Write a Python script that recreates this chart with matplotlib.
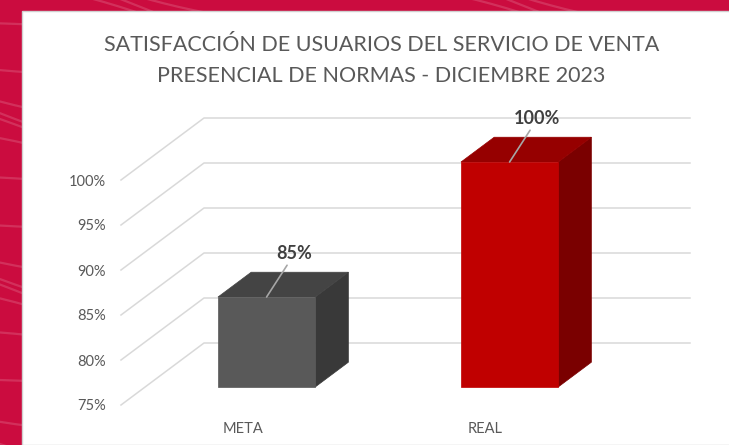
import numpy as np
import matplotlib.pyplot as plt
from matplotlib.patches import Polygon, Rectangle
from matplotlib.lines import Line2D

categories = ["META", "REAL"]
values = [85, 100]
value_labels = ["85%", "100%"]
ticks = [75, 80, 85, 90, 95, 100]
tick_labels = ["75%", "80%", "85%", "90%", "95%", "100%"]
title_lines = ["SATISFACCIÓN DE USUARIOS DEL SERVICIO DE VENTA",
               "PRESENCIAL DE NORMAS - DICIEMBRE 2023"]

front_cols = ["#595959", "#C00000"]
top_cols = ["#444444", "#960000"]
side_cols = ["#393939", "#7A0000"]

plt.rcParams['font.family'] = ['Lato', 'DejaVu Sans']

W, H = 729, 445
fig = plt.figure(figsize=(W / 100, H / 100), dpi=100)
fig.patch.set_facecolor("#CB0C3F")

# decorative stripes on the red border
bg = fig.add_axes([0, 0, 1, 1])
bg.set_xlim(0, 1)
bg.set_ylim(0, 1)
bg.axis("off")
for k, y0 in enumerate(np.linspace(-0.2, 1.3, 26)):
    xs = np.linspace(0, 1, 50)
    bg.plot(xs, y0 - 0.35 * xs + 0.05 * np.sin(xs * 6 + k), color="white",
            alpha=0.15, lw=1.6)
bg.add_patch(Rectangle((22 / W, 0), 1, (H - 11) / H, facecolor="white",
                       edgecolor="#D0D0D0", lw=1, zorder=5))

# main axes: front plane of the 3D chart
left, right = 121, 607
y75, y100 = 405, 180
ax = fig.add_axes([left / W, (H - y75) / H, (right - left) / W, (y75 - y100) / H])
ax.set_xlim(-0.5, 1.5)
ax.set_ylim(75, 100)
ax.patch.set_alpha(0)
ax.set_zorder(6)
for s in ax.spines.values():
    s.set_visible(False)

px_x = 2.0 / (right - left)          # data units per pixel, x
px_y = 25.0 / (y75 - y100)           # data units per pixel, y
DX, DY = 83 * px_x, 62 * px_y        # full depth offset
d0, d1 = 0.29, 0.69                  # bar depth span
hw = 0.2                             # half bar width


def proj(x, v, d):
    return (x + d * DX, v + d * DY)


grid_c = "#D9D9D9"
for t in ticks:
    pts = [proj(-0.5, t, 0), proj(-0.5, t, 1), proj(1.5, t, 1)]
    ax.add_line(Line2D([p[0] for p in pts], [p[1] for p in pts], color=grid_c,
                       lw=1.1, clip_on=False, zorder=1))

base = ticks[0]
for i, v in enumerate(values):
    front = [proj(i - hw, base, d0), proj(i + hw, base, d0),
             proj(i + hw, v, d0), proj(i - hw, v, d0)]
    top = [proj(i - hw, v, d0), proj(i + hw, v, d0),
           proj(i + hw, v, d1), proj(i - hw, v, d1)]
    side = [proj(i + hw, base, d0), proj(i + hw, base, d1),
            proj(i + hw, v, d1), proj(i + hw, v, d0)]
    for poly, c in [(side, side_cols[i]), (top, top_cols[i]), (front, front_cols[i])]:
        ax.add_patch(Polygon(poly, closed=True, facecolor=c, edgecolor=c,
                             lw=0.5, clip_on=False, zorder=3))
    ax.annotate(value_labels[i], xy=proj(i, v, d0), xytext=(20, 31),
                textcoords="offset points", ha="center", va="center",
                fontsize=13, fontweight="bold", color="#404040",
                arrowprops=dict(arrowstyle="-", color="#A6A6A6", lw=1.2,
                                shrinkA=0, shrinkB=0),
                annotation_clip=False, zorder=4)

ax.set_yticks(ticks)
ax.set_yticklabels(tick_labels)
ax.set_xticks(range(len(categories)))
ax.set_xticklabels(categories)
ax.tick_params(axis="y", length=0, pad=11, labelsize=10.5, labelcolor="#595959")
ax.tick_params(axis="x", length=0, pad=12, labelsize=10.5, labelcolor="#595959")

fig.text(381.5 / W, 1 - 45 / H, title_lines[0], ha="center", va="center",
         fontsize=15.5, color="#595959", zorder=7)
fig.text(381.5 / W, 1 - 75.5 / H, title_lines[1], ha="center", va="center",
         fontsize=15.5, color="#595959", zorder=7)

fig.savefig("out.png", dpi=100, facecolor=fig.get_facecolor())
